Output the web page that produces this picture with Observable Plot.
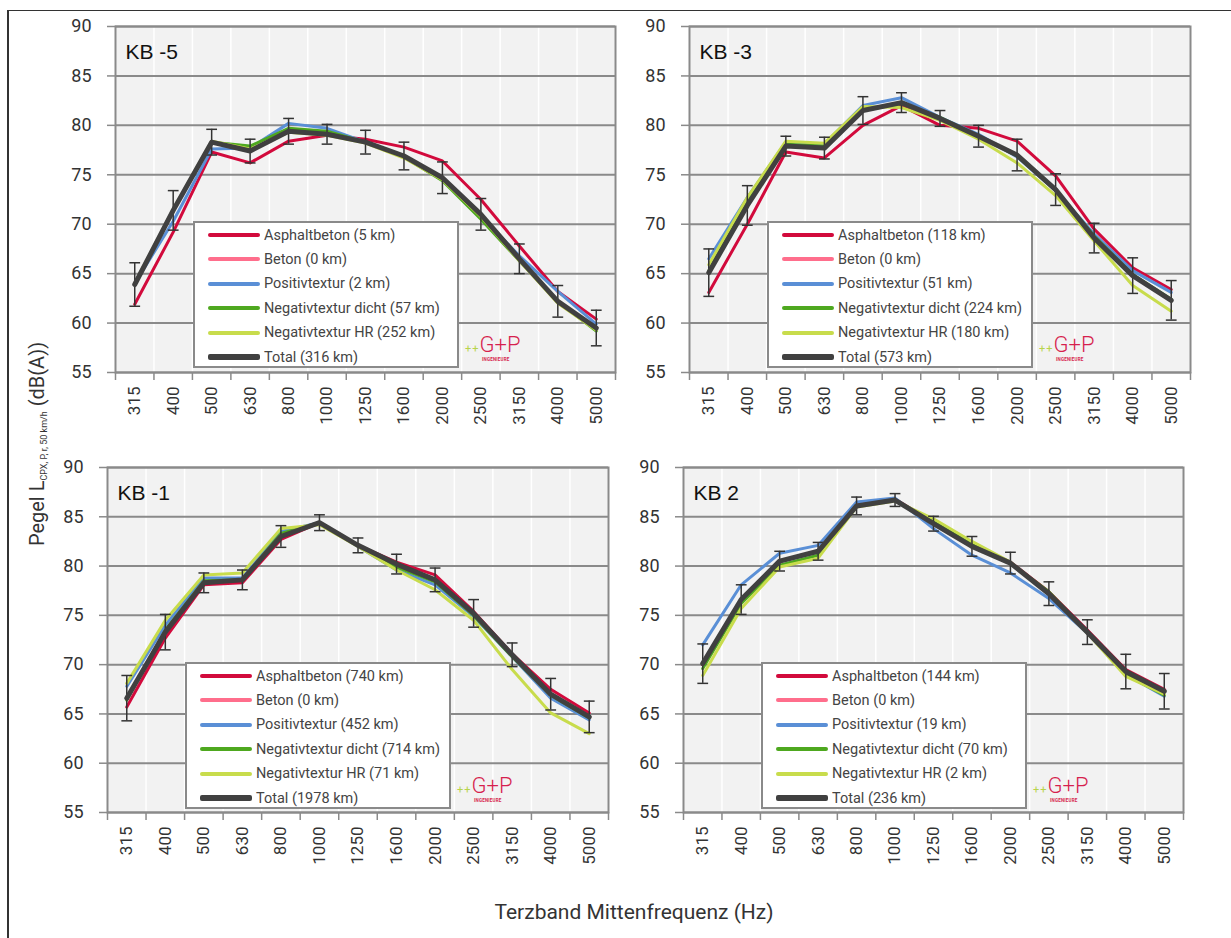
<!DOCTYPE html>
<html><head><meta charset="utf-8">
<script src="https://cdn.jsdelivr.net/npm/d3@7"></script>
<script src="https://cdn.jsdelivr.net/npm/@observablehq/plot@0.6"></script>
<style>
body{margin:0;background:#fff;font-family:Roboto,"Liberation Sans",sans-serif;}
#root{position:relative;width:1231px;height:938px;overflow:hidden;background:#fff}
.frameTop{position:absolute;left:8px;top:10px;width:1223px;height:0;border-top:1.5px solid #333}
.frameLeft{position:absolute;left:7px;top:10px;width:0;height:928px;border-left:2px solid #333}
.pl{position:absolute}
.legend{position:absolute;width:262px;height:143px;background:#fff;border:2px solid #8a8a8a}
.row{position:absolute;left:13px;height:20px;display:flex;align-items:center}
.sw{width:52px;border-radius:2px;margin-right:4px}
.lt{font-size:14.5px;color:#444;white-space:nowrap}
.logo{position:absolute;white-space:nowrap}
.logo .pp{color:#b8d44a;font-size:11px;letter-spacing:1px}
.logo .gp{color:#d61f4e;font-size:22px;font-family:Roboto,sans-serif;font-weight:300}
.logo .ing{position:absolute;left:17px;top:25px;font-size:4.5px;color:#d61f4e;font-weight:bold;letter-spacing:0.2px}
.ytitle{position:absolute;left:37px;top:444px;transform:translate(-50%,-50%) rotate(-90deg);white-space:nowrap;font-size:20px;color:#333}
.ytitle sub{font-size:9px;vertical-align:-3px}
.xtitle{position:absolute;left:634px;top:912px;transform:translate(-50%,-50%);white-space:nowrap;font-size:21px;color:#333}
</style></head><body><div id="root"></div>
<script>
// ---------- data ----------
const freqs = ["315","400","500","630","800","1000","1250","1600","2000","2500","3150","4000","5000"];
const seriesNames = ["Asphaltbeton","Beton","Positivtextur","Negativtextur dicht","Negativtextur HR","Total"];
const seriesColors = ["#d20a3c","#ff6e8c","#5a8fd6","#4ea81f","#c8dc4c","#404040"];
const seriesWidths = [3,3,3,3,3,5];
const panelTitles = ["KB -5","KB -3","KB -1","KB 2"];
const yTicks = [55,60,65,70,75,80,85,90];

// KB -5
const kbm5_km = [5,0,2,57,252,316];
const kbm5_asphalt = [61.9,69.2,77.3,76.2,78.4,79.0,78.6,77.8,76.4,72.5,67.8,63.2,60.4];
const kbm5_beton = [];
const kbm5_positiv = [64.0,70.3,77.6,77.7,80.2,79.7,78.3,76.9,74.7,70.8,66.8,63.2,59.9];
const kbm5_negdicht = [63.9,71.4,78.3,77.9,79.7,79.4,78.3,76.8,74.4,70.5,66.3,62.2,59.2];
const kbm5_neghr = [64.0,71.5,78.4,77.6,79.3,79.0,78.2,76.7,74.5,70.8,66.3,62.0,59.3];
const kbm5_total = [63.9,71.4,78.3,77.4,79.4,79.1,78.3,76.9,74.7,71.0,66.5,62.2,59.5];
const kbm5_err = [2.2,2.0,1.3,1.2,1.3,1.0,1.2,1.4,1.6,1.6,1.5,1.6,1.8];

// KB -3
const kbm3_km = [118,0,51,224,180,573];
const kbm3_asphalt = [63.1,70.0,77.3,76.7,80.0,82.0,80.0,79.7,78.4,74.9,69.5,65.6,63.4];
const kbm3_beton = [];
const kbm3_positiv = [66.5,72.7,78.3,78.1,82.0,82.8,80.8,79.1,76.8,73.4,69.0,65.3,63.1];
const kbm3_negdicht = [65.3,72.2,78.1,77.9,81.5,82.2,80.8,78.9,76.9,73.5,68.8,64.9,62.4];
const kbm3_neghr = [65.9,72.7,78.4,78.2,81.9,81.8,80.5,78.6,76.2,72.9,68.3,63.8,61.2];
const kbm3_total = [65.1,71.9,77.9,77.7,81.5,82.3,80.7,78.9,77.0,73.5,68.6,64.8,62.3];
const kbm3_err = [2.4,2.0,1.0,1.1,1.4,1.0,0.8,1.1,1.6,1.6,1.5,1.8,2.0];

// KB -1
const kbm1_km = [740,0,452,714,71,1978];
const kbm1_asphalt = [65.7,72.7,78.1,78.3,82.7,84.4,82.1,80.4,79.1,75.4,71.1,67.5,65.1];
const kbm1_beton = [];
const kbm1_positiv = [67.8,74.0,78.8,78.8,83.5,84.4,82.0,79.6,78.1,74.9,70.8,66.6,64.4];
const kbm1_negdicht = [66.4,73.5,78.5,78.6,83.3,84.4,82.1,79.9,78.4,75.0,70.8,66.9,64.6];
const kbm1_neghr = [68.1,74.5,79.1,79.3,83.8,84.2,82.0,79.6,77.6,74.5,69.5,65.1,63.0];
const kbm1_total = [66.6,73.3,78.3,78.6,83.0,84.4,82.1,80.2,78.6,75.2,71.0,67.0,64.7];
const kbm1_err = [2.3,1.8,1.0,1.0,1.1,0.8,0.75,1.0,1.2,1.4,1.2,1.6,1.6];

// KB 2
const kb2_km = [144,0,19,70,2,236];
const kb2_asphalt = [70.0,76.5,80.5,81.5,86.2,86.8,84.4,82.0,80.4,77.4,73.5,69.5,67.5];
const kb2_beton = [];
const kb2_positiv = [72.0,78.1,81.3,82.1,86.5,86.9,83.8,81.1,79.3,76.7,73.2,69.0,66.8];
const kb2_negdicht = [69.6,76.2,80.1,81.1,86.1,86.7,84.5,82.2,80.3,77.4,73.3,69.0,66.9];
const kb2_neghr = [68.9,75.7,79.9,80.8,86.0,86.6,84.8,82.5,80.4,77.2,73.2,68.8,67.0];
const kb2_total = [70.1,76.6,80.5,81.5,86.1,86.7,84.3,82.0,80.3,77.2,73.3,69.3,67.3];
const kb2_err = [2.0,1.5,1.0,0.9,0.9,0.65,0.75,1.0,1.1,1.2,1.25,1.75,1.8];

// ---------- layout ----------
const panels = [
  {title: panelTitles[0], km: kbm5_km, series: [kbm5_asphalt,kbm5_beton,kbm5_positiv,kbm5_negdicht,kbm5_neghr,kbm5_total], err: kbm5_err,
   left: 0, top: 0, width: 625, height: 440, mL: 115, mT: 26, mB: 68},
  {title: panelTitles[1], km: kbm3_km, series: [kbm3_asphalt,kbm3_beton,kbm3_positiv,kbm3_negdicht,kbm3_neghr,kbm3_total], err: kbm3_err,
   left: 600, top: 0, width: 600, height: 440, mL: 89, mT: 26, mB: 68},
  {title: panelTitles[2], km: kbm1_km, series: [kbm1_asphalt,kbm1_beton,kbm1_positiv,kbm1_negdicht,kbm1_neghr,kbm1_total], err: kbm1_err,
   left: 0, top: 440, width: 620, height: 440, mL: 107, mT: 27, mB: 68},
  {title: panelTitles[3], km: kb2_km, series: [kb2_asphalt,kb2_beton,kb2_positiv,kb2_negdicht,kb2_neghr,kb2_total], err: kb2_err,
   left: 600, top: 440, width: 600, height: 440, mL: 83, mT: 27, mB: 68}
];
const panelRight = [615, 1190, 608, 1183];

const root = document.getElementById("root");
root.insertAdjacentHTML("beforeend", '<div class="frameTop"></div><div class="frameLeft"></div>');

const idx = d3.range(freqs.length);
const bounds = d3.range(freqs.length + 1).map(i => i - 0.5);
const grid = "#8a8a8a";

panels.forEach((p, pi) => {
  const mR = p.left + p.width - panelRight[pi];
  const marks = [
    Plot.frame({fill: "#f2f2f2"}),
    Plot.gridX(bounds, {stroke: "#ffffff", strokeOpacity: 1, strokeWidth: 1.5}),
    Plot.gridY(yTicks, {stroke: grid, strokeOpacity: 1, strokeWidth: 2}),
    Plot.axisY(yTicks, {label: null, tickSize: 8, tickPadding: 16, stroke: grid, strokeWidth: 1.5, fill: "#333", fontSize: 18}),
    Plot.axisX(bounds, {label: null, tickSize: 8, tickFormat: () => "", stroke: grid, strokeWidth: 1.5}),
    Plot.axisX(idx, {label: null, tickSize: 0, tickPadding: 14, tickRotate: -90, tickFormat: i => freqs[i], fill: "#333", fontSize: 17})
  ];
  // error bars on Total
  const total = p.series[5];
  const errRows = idx.map(i => ({i, lo: total[i] - p.err[i], hi: total[i] + p.err[i]}));
  p.series.forEach((vals, si) => {
    if (si === 5) {
      marks.push(Plot.ruleX(errRows, {x: "i", y1: "lo", y2: "hi", stroke: "#333", strokeWidth: 1.5}));
      marks.push(Plot.link(errRows, {x1: d => d.i - 0.14, x2: d => d.i + 0.14, y1: "hi", y2: "hi", stroke: "#333", strokeWidth: 1.5}));
      marks.push(Plot.link(errRows, {x1: d => d.i - 0.14, x2: d => d.i + 0.14, y1: "lo", y2: "lo", stroke: "#333", strokeWidth: 1.5}));
    }
    if (!vals.length) return;
    const rows = vals.map((v, i) => ({i, v}));
    marks.push(Plot.line(rows, {x: "i", y: "v", stroke: seriesColors[si], strokeWidth: seriesWidths[si], strokeLinejoin: "round", strokeLinecap: "round"}));
  });
  marks.push(Plot.frame({stroke: grid, strokeWidth: 2}));
  marks.push(Plot.text([p.title], {text: d => d, frameAnchor: "top-left", dx: 10, dy: 18, fontSize: 21, fill: "#111", fontFamily: "Liberation Sans, Arial, sans-serif", textAnchor: "start"}));

  const svg = Plot.plot({
    width: p.width, height: p.height,
    marginLeft: p.mL, marginRight: mR, marginTop: p.mT, marginBottom: p.mB,
    x: {type: "linear", domain: [-0.5, freqs.length - 0.5], axis: null, label: null},
    y: {domain: [55, 90], axis: null, label: null},
    style: {fontFamily: "Roboto, sans-serif", background: "transparent", overflow: "visible"},
    marks
  });
  svg.classList.add("pl");
  svg.style.left = p.left + "px";
  svg.style.top = p.top + "px";
  root.appendChild(svg);

  // legend
  const fx = p.left + p.mL, fy = p.top + p.mT;
  const lg = document.createElement("div");
  lg.className = "legend";
  lg.style.left = (fx + 78) + "px";
  lg.style.top = (fy + 195) + "px";
  seriesNames.forEach((n, si) => {
    const r = document.createElement("div");
    r.className = "row";
    r.style.top = (2 + si * 24.4) + "px";
    r.innerHTML = `<div class="sw" style="height:${si === 5 ? 6 : 4}px;background:${seriesColors[si]}"></div><span class="lt">${n} (${p.km[si]} km)</span>`;
    lg.appendChild(r);
  });
  root.appendChild(lg);

  const logo = document.createElement("div");
  logo.className = "logo";
  logo.style.left = (fx + 350) + "px";
  logo.style.top = (fy + 306) + "px";
  logo.innerHTML = '<span class="pp">++</span><span class="gp">G+P</span><div class="ing">INGENIEURE</div>';
  root.appendChild(logo);
});

root.insertAdjacentHTML("beforeend",
  '<div class="ytitle">Pegel L<sub>CPX, P, r, 50 km/h</sub> (dB(A))</div>' +
  '<div class="xtitle">Terzband Mittenfrequenz (Hz)</div>');
</script></body></html>
